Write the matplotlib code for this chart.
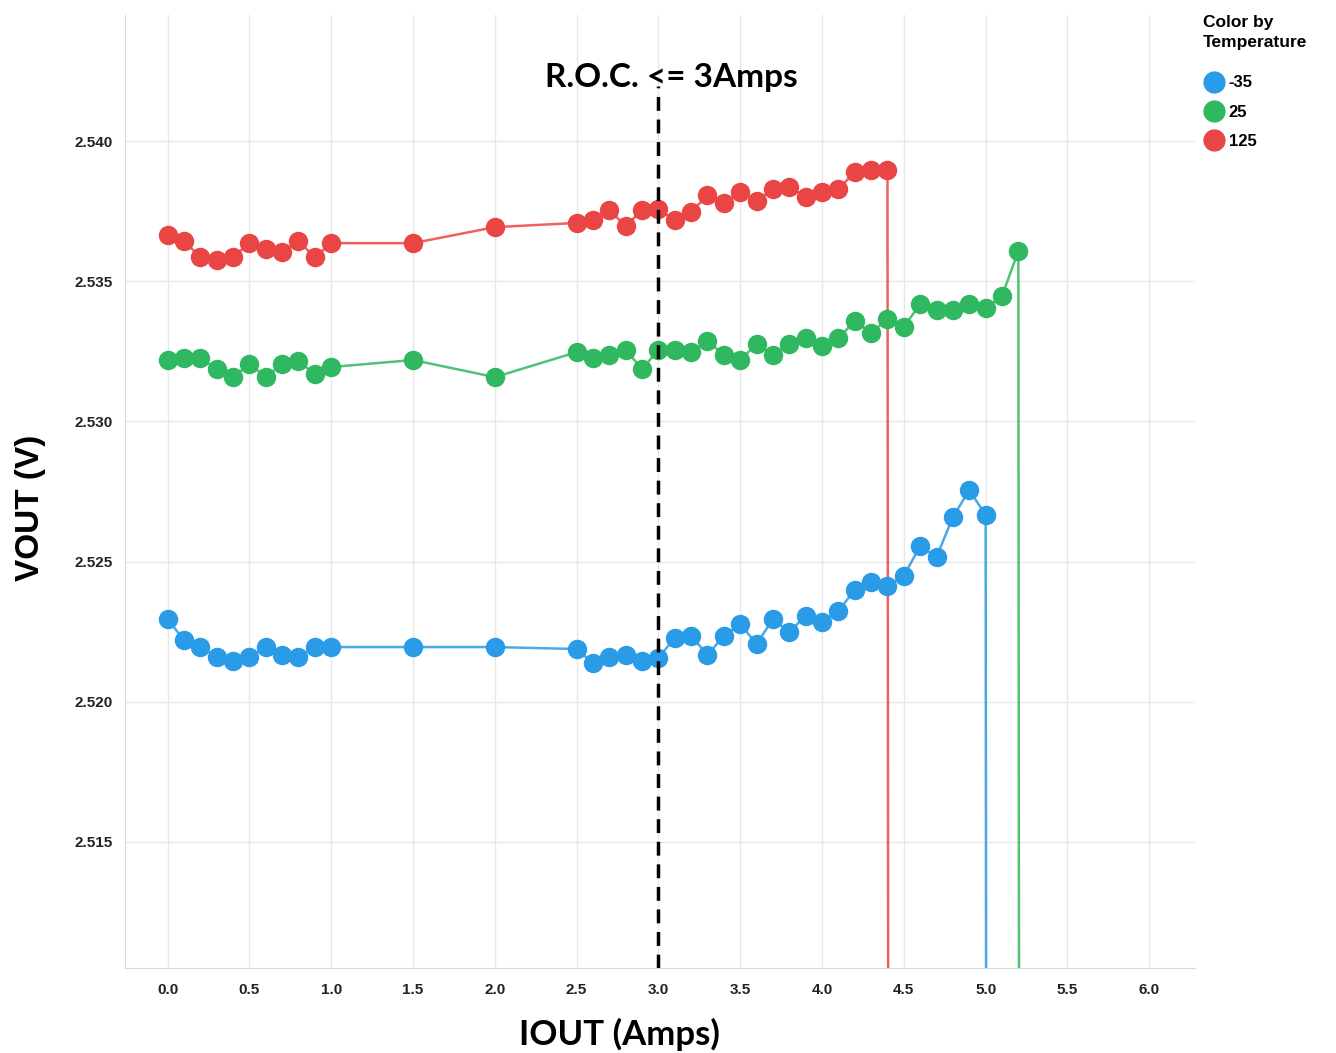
import matplotlib.pyplot as plt
from matplotlib.lines import Line2D

# IOUT (A) sample points, shared by all three temperatures up to where each stops
iout = [0.0, 0.1, 0.2, 0.3, 0.4, 0.5, 0.6, 0.7, 0.8, 0.9, 1.0, 1.5, 2.0,
        2.5, 2.6, 2.7, 2.8, 2.9, 3.0, 3.1, 3.2, 3.3, 3.4, 3.5, 3.6, 3.7,
        3.8, 3.9, 4.0, 4.1, 4.2, 4.3, 4.4, 4.5, 4.6, 4.7, 4.8, 4.9, 5.0,
        5.1, 5.2]

vout_m35 = [2.52295, 2.52220, 2.52195, 2.52160, 2.52145, 2.52160, 2.52195,
            2.52167, 2.52160, 2.52195, 2.52195, 2.52195, 2.52195, 2.52188,
            2.52138, 2.52160, 2.52167, 2.52145, 2.52156, 2.52228, 2.52235,
            2.52167, 2.52235, 2.52277, 2.52206, 2.52295, 2.52249, 2.52306,
            2.52285, 2.52324, 2.52399, 2.52427, 2.52413, 2.52449, 2.52556,
            2.52516, 2.52659, 2.52755, 2.52666]

vout_25 = [2.53219, 2.53226, 2.53226, 2.53187, 2.53158, 2.53205, 2.53158,
           2.53205, 2.53215, 2.53169, 2.53194, 2.53219, 2.53158, 2.53247,
           2.53226, 2.53237, 2.53255, 2.53187, 2.53255, 2.53255, 2.53247,
           2.53287, 2.53237, 2.53219, 2.53276, 2.53237, 2.53276, 2.53297,
           2.53269, 2.53297, 2.53358, 2.53315, 2.53365, 2.53337, 2.53419,
           2.53397, 2.53397, 2.53419, 2.53404, 2.53447, 2.53608]

vout_125 = [2.53665, 2.53643, 2.53586, 2.53576, 2.53586, 2.53636, 2.53615,
            2.53604, 2.53643, 2.53586, 2.53636, 2.53636, 2.53693, 2.53708,
            2.53718, 2.53754, 2.53697, 2.53754, 2.53757, 2.53718, 2.53747,
            2.53807, 2.53779, 2.53818, 2.53786, 2.53829, 2.53836, 2.53800,
            2.53818, 2.53829, 2.53889, 2.53897, 2.53897]

# where each run collapsed (output drops far below the plotted range)
drop_x = {"-35": 5.02, "25": 5.22, "125": 4.42}
drop_v = 2.40

temps = ["-35", "25", "125"]
series = {"-35": vout_m35, "25": vout_25, "125": vout_125}
colors = {"-35": "#2A9BE6", "25": "#30B860", "125": "#EA4545"}

fig = plt.figure(figsize=(13.36, 10.53), dpi=100)
ax = fig.add_axes([0.0936, 0.0807, 0.8009, 0.9051])

for t in temps:
    v = series[t]
    x = iout[:len(v)]
    c = colors[t]
    ax.plot(x + [drop_x[t]], v + [drop_v], color=c, lw=1.8, alpha=0.85, zorder=2)
    ax.plot(x, v, "o", color=c, ms=13, mec=c, zorder=3)

ax.axvline(3.0, color="black", lw=2.5, ls=(0, (4, 2.5)), ymax=0.925, zorder=4)
ax.text(3.08, 2.54228, "R.O.C. <= 3Amps", ha="center", va="center",
        fontsize=24, fontweight="bold", family="Lato")

ax.set_xlim(-0.26, 6.28)
ax.set_ylim(2.5105, 2.5445)
ax.set_xticks([0.0, 0.5, 1.0, 1.5, 2.0, 2.5, 3.0, 3.5, 4.0, 4.5, 5.0, 5.5, 6.0])
ax.set_yticks([2.515, 2.520, 2.525, 2.530, 2.535, 2.540])
ax.set_yticklabels(["2.515", "2.520", "2.525", "2.530", "2.535", "2.540"])
ax.set_xticklabels(["0.0", "0.5", "1.0", "1.5", "2.0", "2.5", "3.0", "3.5",
                    "4.0", "4.5", "5.0", "5.5", "6.0"])
for lab in ax.get_xticklabels() + ax.get_yticklabels():
    lab.set_fontweight("bold")
    lab.set_fontsize(11)
    lab.set_family("Liberation Sans")
    lab.set_color("#222222")
ax.tick_params(axis="y", length=0, pad=9)
ax.tick_params(axis="x", length=0, pad=11)

ax.grid(True, color="#E8E8E8", lw=1)
ax.set_axisbelow(True)
for s in ["top", "right"]:
    ax.spines[s].set_visible(False)
for s in ["left", "bottom"]:
    ax.spines[s].set_color("#D8D8D8")

ax.set_xlabel("IOUT (Amps)", fontsize=25, fontweight="bold", family="Lato", va="center")
ax.xaxis.set_label_coords(0.4617, -0.070)
ax.set_ylabel("VOUT (V)", fontsize=24, fontweight="bold", va="center",
              family=["Liberation Sans Narrow", "Liberation Sans"])
ax.yaxis.set_label_coords(-0.088, 0.483)

handles = [Line2D([], [], ls="", marker="o", ms=15, color=colors[t]) for t in temps]
leg = fig.legend(handles, temps, loc="upper left", bbox_to_anchor=(0.889, 1.0),
                 title="Color by\nTemperature", frameon=False, handletextpad=0.25,
                 labelspacing=0.85, handlelength=1.3,
                 prop={"family": "Liberation Sans", "weight": "bold", "size": 12})
leg.get_title().set_fontweight("bold")
leg.get_title().set_family("Liberation Sans")
leg.get_title().set_fontsize(12.5)
leg.get_title().set_linespacing(1.45)
leg._legend_box.align = "left"
leg._legend_box.sep = 18

fig.savefig("out.png", dpi=100)
